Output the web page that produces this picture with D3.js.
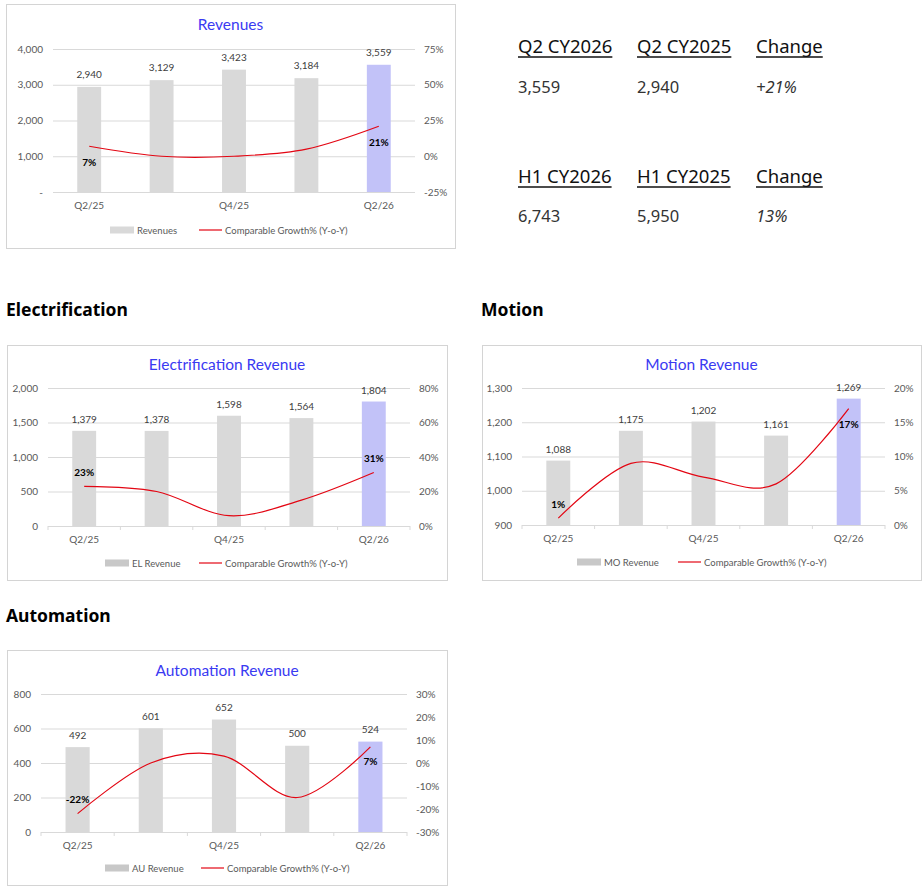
<!DOCTYPE html>
<html>
<head>
<meta charset="utf-8">
<script src="https://cdn.jsdelivr.net/npm/d3@7"></script>
<style>
  body { margin: 0; background: #ffffff; }
  svg { display: block; }
</style>
</head>
<body>
<div id="page"></div>
<script>
// Quarters shown on every chart
const quarters = ['Q2/25', 'Q3/25', 'Q4/25', 'Q1/26', 'Q2/26'];

// Group total
const totalRevenue = [2940, 3129, 3423, 3184, 3559];
const totalGrowth = [7, 0, 0, 5, 21];
const totalLeftTicks = [0, 1000, 2000, 3000, 4000];
const totalRightTicks = [-25, 0, 25, 50, 75];

// Electrification
const elRevenue = [1379, 1378, 1598, 1564, 1804];
const elGrowth = [23, 20, 6, 15, 31];
const elLeftTicks = [0, 500, 1000, 1500, 2000];
const elRightTicks = [0, 20, 40, 60, 80];

// Motion
const moRevenue = [1088, 1175, 1202, 1161, 1269];
const moGrowth = [1, 9, 7, 6, 17];
const moLeftTicks = [900, 1000, 1100, 1200, 1300];
const moRightTicks = [0, 5, 10, 15, 20];

// Automation
const auRevenue = [492, 601, 652, 500, 524];
const auGrowth = [-22, 0, 3, -15, 7];
const auLeftTicks = [0, 200, 400, 600, 800];
const auRightTicks = [-30, -20, -10, 0, 10, 20, 30];

// Summary table
const q2Heads = ['Q2 CY2026', 'Q2 CY2025', 'Change'];
const q2Values = ['3,559', '2,940', '+21%'];
const h1Heads = ['H1 CY2026', 'H1 CY2025', 'Change'];
const h1Values = ['6,743', '5,950', '13%'];

// Section headings
const sections = ['Electrification', 'Motion', 'Automation'];

const W = 924, H = 892;
const chartFont = 'Lato, "Liberation Sans", sans-serif';
const pageFont = '"Noto Sans", "Open Sans", sans-serif';
const barGrey = '#d9d9d9';
const barHighlight = '#c2c2f8';
const lineRed = '#e30613';
const titleBlue = '#3a3af2';
const axisGrey = '#595959';

const svg = d3.select('#page')
  .append('svg')
  .attr('width', W)
  .attr('height', H)
  .style('background', '#ffffff');

/**
 * Draw one combo chart (bars + smoothed growth line on second axis)
 */
function drawCombo(cfg) {
  const g = svg.append('g');
  const { left, right, top, bottom } = cfg.plot;

  // frame
  g.append('rect')
    .attr('x', cfg.box[0] + 0.5)
    .attr('y', cfg.box[1] + 0.5)
    .attr('width', cfg.box[2] - cfg.box[0])
    .attr('height', cfg.box[3] - cfg.box[1])
    .attr('fill', '#ffffff')
    .attr('stroke', '#d4d4d4')
    .attr('stroke-width', 1);

  // title
  g.append('text')
    .attr('x', (cfg.box[0] + cfg.box[2]) / 2)
    .attr('y', cfg.titleY + 5)
    .attr('text-anchor', 'middle')
    .attr('fill', titleBlue)
    .attr('font-family', chartFont)
    .attr('font-size', '15.5px')
    .text(cfg.title);

  const x = d3.scaleBand()
    .domain(quarters)
    .range([left, right])
    .paddingInner(0.67)
    .paddingOuter(0.335);

  const y = d3.scaleLinear()
    .domain(d3.extent(cfg.leftTicks))
    .range([bottom, top]);

  const y2 = d3.scaleLinear()
    .domain(d3.extent(cfg.rightTicks))
    .range([bottom, top]);

  // left axis + gridlines
  const leftAxis = g.append('g')
    .attr('transform', `translate(${left},0)`)
    .call(d3.axisLeft(y)
      .tickValues(cfg.leftTicks)
      .tickSize(-(right - left))
      .tickPadding(10)
      .tickFormat(cfg.leftFormat));
  leftAxis.select('.domain').remove();
  leftAxis.selectAll('line').attr('stroke', '#d9d9d9').attr('stroke-width', 1);
  leftAxis.selectAll('text')
    .attr('fill', axisGrey)
    .attr('font-family', chartFont)
    .attr('font-size', '10px');

  // right axis
  const rightAxis = g.append('g')
    .attr('transform', `translate(${right},0)`)
    .call(d3.axisRight(y2)
      .tickValues(cfg.rightTicks)
      .tickSize(0)
      .tickPadding(9)
      .tickFormat(d => d + '%'));
  rightAxis.select('.domain').remove();
  rightAxis.selectAll('text')
    .attr('fill', axisGrey)
    .attr('font-family', chartFont)
    .attr('font-size', '10px');

  // bottom axis (every other label)
  const bottomAxis = g.append('g')
    .attr('transform', `translate(0,${bottom})`)
    .call(d3.axisBottom(x)
      .tickSize(0)
      .tickPadding(10)
      .tickFormat((d, i) => i % 2 === 0 ? d : ''));
  bottomAxis.select('.domain').remove();
  bottomAxis.selectAll('text')
    .attr('fill', axisGrey)
    .attr('font-family', chartFont)
    .attr('font-size', '10px');

  // category boundary ticks on the base line
  if (cfg.boundaryTicks) {
    const step = x.step();
    const bounds = d3.range(quarters.length + 1).map(i => left + i * step);
    g.append('g')
      .selectAll('line')
      .data(bounds)
      .join('line')
      .attr('x1', d => d)
      .attr('x2', d => d)
      .attr('y1', bottom)
      .attr('y2', bottom + 4)
      .attr('stroke', '#d9d9d9');
  }

  // bars
  g.append('g')
    .selectAll('rect')
    .data(cfg.revenue)
    .join('rect')
    .attr('x', (d, i) => x(quarters[i]))
    .attr('y', d => y(d))
    .attr('width', x.bandwidth())
    .attr('height', d => bottom - y(d))
    .attr('fill', (d, i) => i === quarters.length - 1 ? barHighlight : barGrey);

  // bar value labels
  g.append('g')
    .selectAll('text')
    .data(cfg.revenue)
    .join('text')
    .attr('x', (d, i) => x(quarters[i]) + x.bandwidth() / 2)
    .attr('y', d => y(d) - cfg.valueGap)
    .attr('text-anchor', 'middle')
    .attr('fill', '#404040')
    .attr('font-family', chartFont)
    .attr('font-size', '10px')
    .text(d => d3.format(',')(d));

  // growth line
  const cx = i => x(quarters[i]) + x.bandwidth() / 2;
  const line = d3.line()
    .x((d, i) => cx(i))
    .y(d => y2(d))
    .curve(d3.curveCardinal.tension(0));

  g.append('path')
    .datum(cfg.growth)
    .attr('d', line)
    .attr('fill', 'none')
    .attr('stroke', lineRed)
    .attr('stroke-width', 1.2);

  // first and last growth labels only
  const last = quarters.length - 1;
  [0, last].forEach((i, k) => {
    g.append('text')
      .attr('x', cx(i))
      .attr('y', y2(cfg.growth[i]) + cfg.labelOffset[k] + 3.5)
      .attr('text-anchor', 'middle')
      .attr('fill', '#000000')
      .attr('font-family', chartFont)
      .attr('font-size', '10px')
      .attr('font-weight', '700')
      .text(cfg.growth[i] + '%');
  });

  // legend
  const lg = g.append('g').attr('font-family', chartFont).attr('font-size', '9.5px').attr('fill', axisGrey);
  const ly = cfg.legend.y;
  lg.append('rect')
    .attr('x', cfg.legend.rectX)
    .attr('y', ly - 3.5)
    .attr('width', 24)
    .attr('height', 7)
    .attr('fill', cfg.legend.rectFill);
  lg.append('text')
    .attr('x', cfg.legend.rectX + 27)
    .attr('y', ly + 3.5)
    .text(cfg.legendLabel);
  lg.append('line')
    .attr('x1', cfg.legend.lineX)
    .attr('x2', cfg.legend.lineX + 23)
    .attr('y1', ly)
    .attr('y2', ly)
    .attr('stroke', lineRed)
    .attr('stroke-width', 1.2);
  lg.append('text')
    .attr('x', cfg.legend.lineX + 26)
    .attr('y', ly + 3.5)
    .text('Comparable Growth% (Y-o-Y)');
}

drawCombo({
  title: 'Revenues',
  legendLabel: 'Revenues',
  revenue: totalRevenue,
  growth: totalGrowth,
  leftTicks: totalLeftTicks,
  rightTicks: totalRightTicks,
  leftFormat: d => d === 0 ? '-' : d3.format(',')(d),
  box: [6, 4, 455, 248],
  plot: { left: 53, right: 415, top: 49, bottom: 192 },
  titleY: 25,
  valueGap: 9,
  boundaryTicks: false,
  labelOffset: [16, 16],
  legend: { y: 230, rectX: 110, lineX: 199, rectFill: '#d9d9d9' }
});

drawCombo({
  title: 'Electrification Revenue',
  legendLabel: 'EL Revenue',
  revenue: elRevenue,
  growth: elGrowth,
  leftTicks: elLeftTicks,
  rightTicks: elRightTicks,
  leftFormat: d3.format(','),
  box: [7, 345, 447, 580],
  plot: { left: 48, right: 410, top: 388, bottom: 526 },
  titleY: 365,
  valueGap: 8,
  boundaryTicks: true,
  labelOffset: [-14, -14],
  legend: { y: 563, rectX: 105, lineX: 199, rectFill: '#c8c8c8' }
});

drawCombo({
  title: 'Motion Revenue',
  legendLabel: 'MO Revenue',
  revenue: moRevenue,
  growth: moGrowth,
  leftTicks: moLeftTicks,
  rightTicks: moRightTicks,
  leftFormat: d3.format(','),
  box: [482, 345, 921, 580],
  plot: { left: 522, right: 885, top: 388, bottom: 525 },
  titleY: 365,
  valueGap: 8,
  boundaryTicks: true,
  labelOffset: [-14, 16],
  legend: { y: 562, rectX: 577, lineX: 678, rectFill: '#c8c8c8' }
});

drawCombo({
  title: 'Automation Revenue',
  legendLabel: 'AU Revenue',
  revenue: auRevenue,
  growth: auGrowth,
  leftTicks: auLeftTicks,
  rightTicks: auRightTicks,
  leftFormat: d3.format(','),
  box: [7, 650, 447, 885],
  plot: { left: 41, right: 407, top: 694, bottom: 832 },
  titleY: 671,
  valueGap: 8.5,
  boundaryTicks: true,
  labelOffset: [-14, 15],
  legend: { y: 868, rectX: 105, lineX: 201, rectFill: '#c8c8c8' }
});

/**
 * Section headings
 */
const headingPos = [[6, 316], [481, 316], [6, 622]];
svg.append('g')
  .selectAll('text')
  .data(sections)
  .join('text')
  .attr('x', (d, i) => headingPos[i][0])
  .attr('y', (d, i) => headingPos[i][1])
  .attr('fill', '#000000')
  .attr('font-family', pageFont)
  .attr('font-size', '17.5px')
  .attr('font-weight', '700')
  .text(d => d);

/**
 * Summary table on the right
 */
function drawSummary(heads, values, headY, valueY) {
  const colX = [518, 637, 756];
  const g = svg.append('g');
  heads.forEach((h, i) => {
    const t = g.append('text')
      .attr('x', colX[i])
      .attr('y', headY)
      .attr('fill', '#111111')
      .attr('font-family', pageFont)
      .attr('font-size', '18.5px')
      .text(h);
    const w = t.node().getComputedTextLength();
    g.append('line')
      .attr('x1', colX[i])
      .attr('x2', colX[i] + w)
      .attr('y1', headY + 4)
      .attr('y2', headY + 4)
      .attr('stroke', '#111111')
      .attr('stroke-width', 1.3);
  });
  values.forEach((v, i) => {
    g.append('text')
      .attr('x', colX[i])
      .attr('y', valueY)
      .attr('fill', '#333333')
      .attr('font-family', pageFont)
      .attr('font-size', '16.5px')
      .attr('font-style', i === 2 ? 'italic' : 'normal')
      .text(v);
  });
}

drawSummary(q2Heads, q2Values, 53, 93);
drawSummary(h1Heads, h1Values, 183, 222);
</script>
</body>
</html>
